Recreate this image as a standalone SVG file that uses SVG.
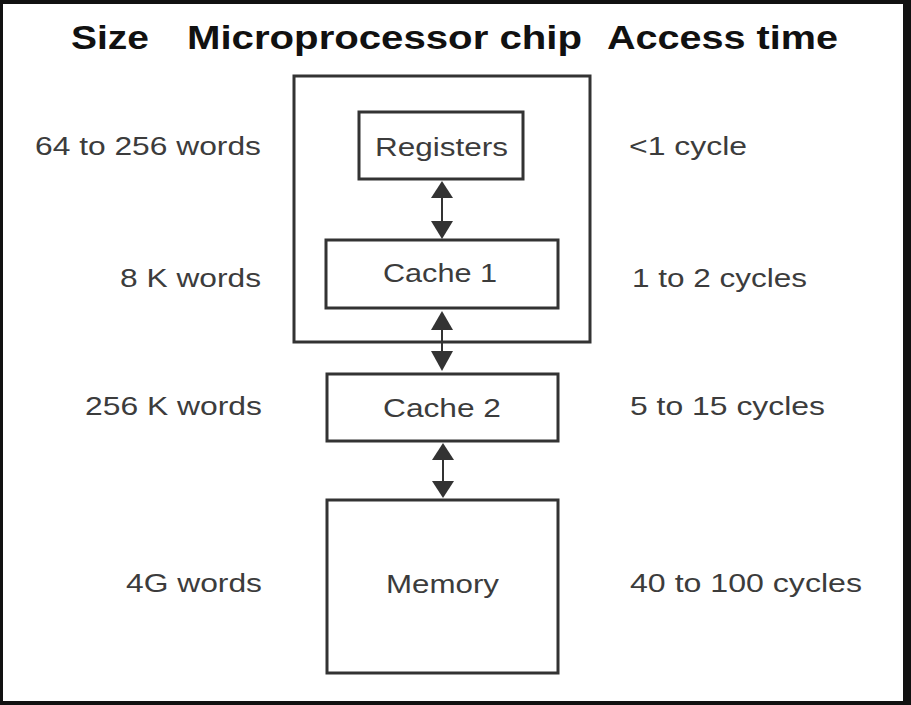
<svg xmlns="http://www.w3.org/2000/svg" width="911" height="705" viewBox="0 0 911 705">
<defs>
<style>
.hdr{font-family:"Liberation Sans",Arial,sans-serif;font-weight:bold;font-size:33px;fill:#111}
.lbl{font-family:"Liberation Sans",Arial,sans-serif;font-size:25px;fill:#3c3c3c}
.box{fill:#fff;stroke:#333;stroke-width:3}
.conn{stroke:#333;stroke-width:2;fill:none}
.head{fill:#333}
</style>
</defs>
<rect x="0" y="0" width="911" height="705" fill="#111"/>
<rect x="3" y="4" width="900" height="697" fill="#fff"/>
<g id="header">
<text class="hdr" x="71" y="49" textLength="78" lengthAdjust="spacingAndGlyphs">Size</text>
<text class="hdr" x="187" y="49" textLength="395" lengthAdjust="spacingAndGlyphs">Microprocessor chip</text>
<text class="hdr" x="607" y="49" textLength="231" lengthAdjust="spacingAndGlyphs">Access time</text>
</g>
<g id="chip">
<rect class="box" x="294" y="76" width="296" height="266" fill="none"/>
</g>
<g id="registers">
<rect class="box" x="359" y="112" width="164" height="67"/>
<text class="lbl" x="375" y="156" textLength="133" lengthAdjust="spacingAndGlyphs">Registers</text>
</g>
<g id="cache1">
<rect class="box" x="326" y="240" width="232" height="68"/>
<text class="lbl" x="383" y="282" textLength="114" lengthAdjust="spacingAndGlyphs">Cache 1</text>
</g>
<g id="cache2">
<rect class="box" x="327" y="374" width="231" height="67"/>
<text class="lbl" x="383" y="417" textLength="118" lengthAdjust="spacingAndGlyphs">Cache 2</text>
</g>
<g id="memory">
<rect class="box" x="327" y="500" width="231" height="173"/>
<text class="lbl" x="386" y="593" textLength="113" lengthAdjust="spacingAndGlyphs">Memory</text>
</g>
<g id="sizes">
<text class="lbl" x="35" y="155" textLength="226" lengthAdjust="spacingAndGlyphs">64 to 256 words</text>
<text class="lbl" x="120" y="287" textLength="141" lengthAdjust="spacingAndGlyphs">8 K words</text>
<text class="lbl" x="85" y="415" textLength="177" lengthAdjust="spacingAndGlyphs">256 K words</text>
<text class="lbl" x="126" y="592" textLength="136" lengthAdjust="spacingAndGlyphs">4G words</text>
</g>
<g id="times">
<text class="lbl" x="629" y="155" textLength="118" lengthAdjust="spacingAndGlyphs">&lt;1 cycle</text>
<text class="lbl" x="632" y="287" textLength="175" lengthAdjust="spacingAndGlyphs">1 to 2 cycles</text>
<text class="lbl" x="630" y="415" textLength="195" lengthAdjust="spacingAndGlyphs">5 to 15 cycles</text>
<text class="lbl" x="630" y="592" textLength="232" lengthAdjust="spacingAndGlyphs">40 to 100 cycles</text>
</g>
<g id="connectors">
<line class="conn" x1="442" y1="190" x2="442" y2="230"/>
<polygon class="head" points="442,181 431,198 453,198"/>
<polygon class="head" points="442,239 431,221 453,221"/>
<line class="conn" x1="442" y1="320" x2="442" y2="360"/>
<polygon class="head" points="442,311 431,330 453,330"/>
<polygon class="head" points="442,371 431,351 453,351"/>
<line class="conn" x1="443" y1="452" x2="443" y2="490"/>
<polygon class="head" points="443,443 432,460 454,460"/>
<polygon class="head" points="443,498 432,481 454,481"/>
</g>
</svg>
